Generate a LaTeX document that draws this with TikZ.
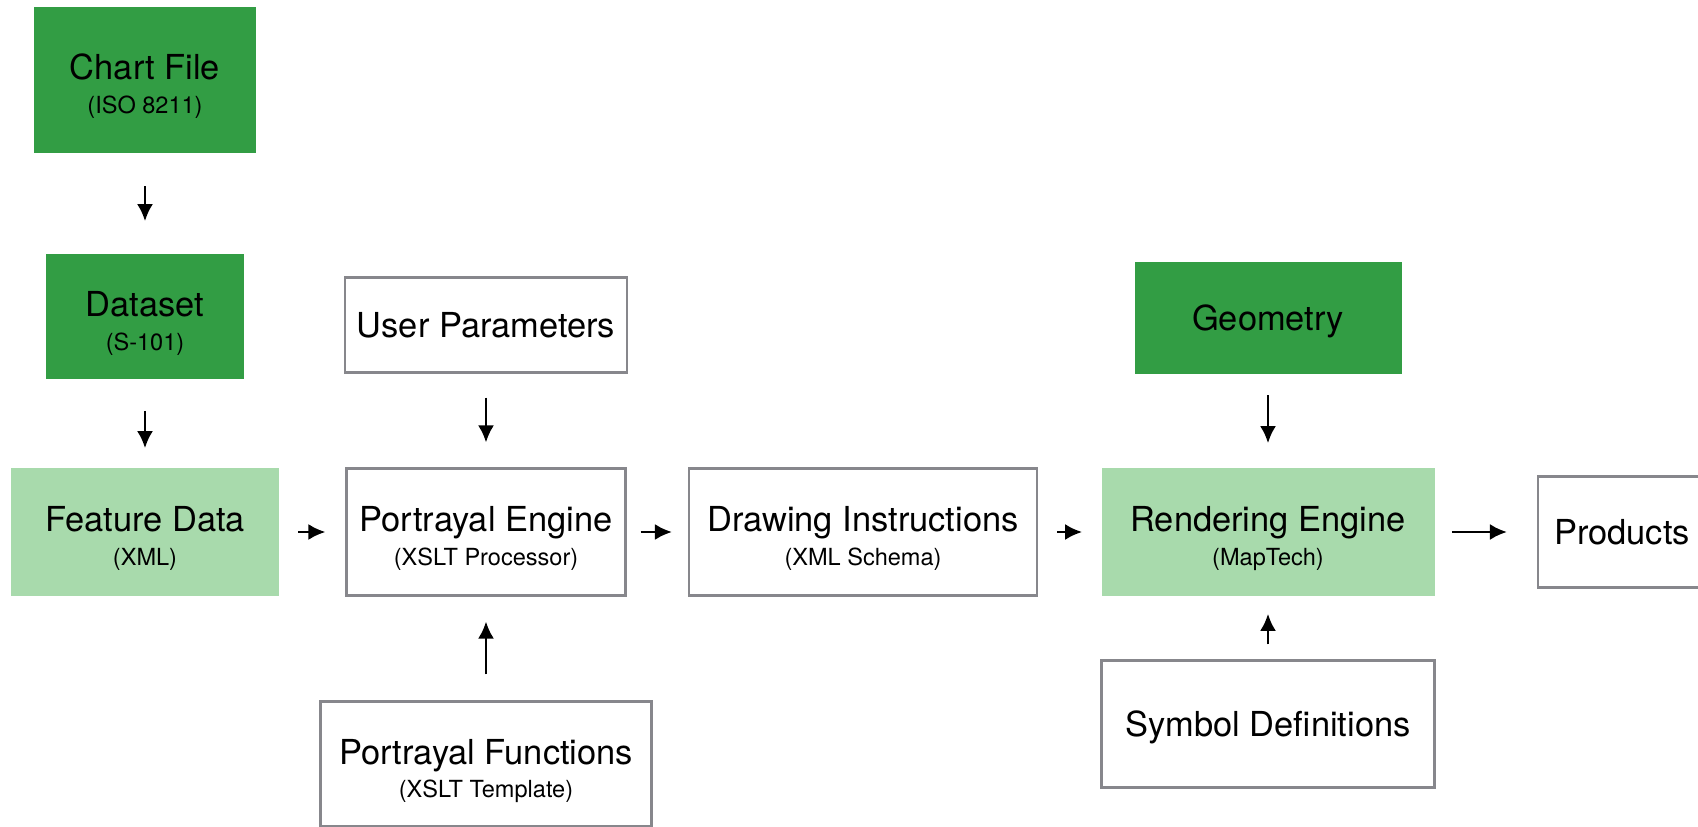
\documentclass[tikz,border=0pt]{standalone}
\usepackage{fontspec}
\setmainfont{TeX Gyre Heros}
\usetikzlibrary{arrows.meta}

\definecolor{chartgreen}{RGB}{50,157,68}
\definecolor{palegreen}{RGB}{168,218,172}
\definecolor{boxgray}{RGB}{135,135,140}

% name on the first line, format below it in small type
\newcommand{\twolines}[2]{\smash{\begin{tabular}[t]{@{}c@{}}#1\\
	{\fontsize{13.4}{16}\selectfont #2}\end{tabular}}}

\begin{document}
\begin{tikzpicture}[x=0.02cm, y=-0.02cm,
	box/.style={draw=boxgray, line width=1.2pt, fill=white, rectangle},
	darkbox/.style={fill=chartgreen, rectangle},
	lightbox/.style={fill=palegreen, rectangle},
	boxsize/.style 2 args={minimum width=#1*0.02cm, minimum height=#2*0.02cm},
	oneline/.style={text height=14pt, text depth=0pt},
	flow/.style={-{Latex[length=0.34cm, width=0.32cm]}, line width=1.5pt},
	font=\fontsize{19.6}{18.8}\selectfont]

	\useasboundingbox (0,0) rectangle (1698,827);

	% source column
	\node[darkbox, boxsize={222}{146}] (chartfile) at (145,80)
		{\twolines{Chart File}{(ISO 8211)}};
	\node[darkbox, boxsize={198}{125}] (dataset) at (145,317)
		{\twolines{Dataset}{(S-101)}};
	\node[lightbox, boxsize={268}{127}] (featuredata) at (145,532)
		{\twolines{Feature Data}{(XML)}};

	% portrayal
	\node[box, oneline, boxsize={282}{95}] (userparams) at (486,325)
		{User Parameters};
	\node[box, boxsize={279}{127}] (engine) at (486,532)
		{\twolines{Portrayal Engine}{(XSLT Processor)}};
	\node[box, boxsize={331}{125}] (functions) at (486,764)
		{\twolines{Portrayal Functions}{(XSLT Template)}};
	\node[box, boxsize={348}{127}] (drawing) at (863,532)
		{\twolines{Drawing Instructions}{(XML Schema)}};

	% rendering
	\node[darkbox, oneline, boxsize={267}{112}] (geometry) at (1268,318)
		{Geometry};
	\node[lightbox, boxsize={333}{127}] (renderer) at (1268,532)
		{\twolines{Rendering Engine}{(MapTech)}};
	\node[box, oneline, boxsize={333}{127}] (symbols) at (1268,724)
		{Symbol Definitions};
	\node[box, oneline, boxsize={168}{111}] (products) at (1622,532)
		{Products};

	\draw[flow, shorten <=0.66cm, shorten >=0.66cm] (chartfile) -- (dataset);
	\draw[flow, shorten <=0.62cm, shorten >=0.40cm] (dataset) -- (featuredata);
	\draw[flow, shorten <=0.38cm, shorten >=0.40cm] (featuredata) -- (engine);
	\draw[flow, shorten <=0.48cm, shorten >=0.50cm] (userparams) -- (engine);
	\draw[flow, shorten <=0.52cm, shorten >=0.50cm] (functions) -- (engine);
	\draw[flow, shorten <=0.28cm, shorten >=0.32cm] (engine) -- (drawing);
	\draw[flow, shorten <=0.38cm, shorten >=0.38cm] (drawing) -- (renderer);
	\draw[flow, shorten <=0.42cm, shorten >=0.50cm] (geometry) -- (renderer);
	\draw[flow, shorten <=0.30cm, shorten >=0.36cm] (symbols) -- (renderer);
	\draw[flow, shorten <=0.34cm, shorten >=0.60cm] (renderer) -- (products);
\end{tikzpicture}
\end{document}
